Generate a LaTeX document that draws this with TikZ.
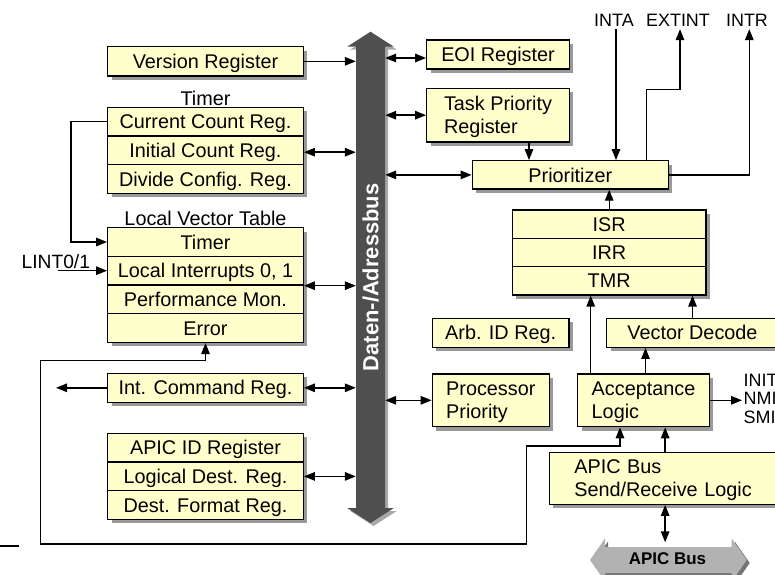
\documentclass[tikz,border=0pt]{standalone}
\usepackage{fontspec}
\setmainfont{Liberation Sans}
\usetikzlibrary{arrows.meta,shadows,calc}
\definecolor{regfill}{HTML}{FFFFCC}
\definecolor{regshadow}{HTML}{999999}
\definecolor{busdark}{HTML}{4F4F4F}
\definecolor{busshade}{HTML}{A8A8A8}
\definecolor{apicfill}{HTML}{B2B2B2}
\definecolor{apicshade}{HTML}{747474}

\begin{document}
\begin{tikzpicture}[x=1bp,y=-1bp,
  font=\fontsize{19.9}{23.3}\selectfont,
  >={Triangle[length=11bp,width=8.5bp]},
  regbase/.style={draw, line width=1.3bp, fill=regfill, inner sep=0pt,
    minimum height=28.7bp, text depth=0pt,
    drop shadow={shadow xshift=4bp, shadow yshift=-4bp, fill=regshadow, opacity=1}},
  reg/.style={regbase, text height=14.25bp},
  lbl/.style={inner sep=0pt, text height=14.25bp, text depth=0pt},
  pin/.style={inner sep=0pt, text height=12.9bp, text depth=0pt,
    font=\fontsize{18}{18.8}\selectfont},
  wire/.style={line width=1.4bp}
]
\useasboundingbox (0,0) rectangle (775,575);
\fill[white] (0,0) rectangle (775,575);
\clip (0,0) rectangle (775,575);

% ---------- central data/address bus ----------
\node[minimum width=29bp, minimum height=461.3bp, inner sep=0pt] (bus) at (370.5,277.35) {};
\fill[busshade] (359,49.7) -- (350.2,49.7) -- (373.5,34.7) -- (396.8,49.7) -- (388,49.7)
  -- (388,511) -- (396.8,511) -- (373.5,526) -- (350.2,511) -- (359,511) -- cycle;
\fill[busdark] (356,46.7) -- (347.2,46.7) -- (370.5,31.7) -- (393.8,46.7) -- (385,46.7)
  -- (385,508) -- (393.8,508) -- (370.5,523) -- (347.2,508) -- (356,508) -- cycle;
\node[rotate=90, text=white, inner sep=0pt, text height=15.75bp, text depth=0pt,
  font=\bfseries\fontsize{22}{22}\selectfont] (buslabel) at (bus.center) {Daten-/Adressbus};

% ---------- APIC bus ----------
\node[minimum width=126.7bp, minimum height=35bp, inner sep=0pt] (apicbus) at (668.35,560) {};
\fill[apicshade] (608,550) -- (608,541.5) -- (593,563) -- (608,584.5) -- (608,576)
  -- (734.7,576) -- (734.7,584.5) -- (749.7,563) -- (734.7,541.5) -- (734.7,550) -- cycle;
\fill[apicfill] (605,547) -- (605,538.5) -- (590,560) -- (605,581.5) -- (605,573)
  -- (731.7,573) -- (731.7,581.5) -- (746.7,560) -- (731.7,538.5) -- (731.7,547) -- cycle;
\node[lbl, font=\bfseries\fontsize{17}{17}\selectfont, text height=12.2bp] (apiclabel)
  at (667.5,558.3) {APIC Bus};

% ---------- left column registers ----------
\node[reg, minimum width=195.6bp, minimum height=29.3bp] (ver) at (205.5,61.3) {Version Register};

\node[lbl] (timerlbl) at (205.5,98) {Timer};
\node[reg, minimum width=195.6bp] (tcur) at (205.5,121.7) {Current Count Reg.};
\node[reg, minimum width=195.6bp] (tini) at (205.5,150.4) {Initial Count Reg.};
\node[reg, minimum width=195.6bp] (tdiv) at (205.5,179.1) {Divide Config. Reg.};

\node[lbl] (lvtlbl) at (205.5,218) {Local Vector Table};
\node[reg, minimum width=195.6bp] (ltim) at (205.5,242) {Timer};
\node[reg, minimum width=195.6bp] (lint) at (205.5,270.7) {Local Interrupts 0, 1};
\node[reg, minimum width=195.6bp] (lperf) at (205.5,299.4) {Performance Mon.};
\node[reg, minimum width=195.6bp] (lerr) at (205.5,328.1) {Error};

\node[reg, minimum width=195.6bp, minimum height=29bp] (icr) at (205.5,387.8) {Int. Command Reg.};

\node[reg, minimum width=195.6bp] (aid) at (205.5,447.7) {APIC ID Register};
\node[reg, minimum width=195.6bp] (ldr) at (205.5,476.4) {Logical Dest. Reg.};
\node[reg, minimum width=195.6bp] (dfr) at (205.5,505.1) {Dest. Format Reg.};

\node[lbl, font=\fontsize{19.3}{20}\selectfont] (lintlbl) at (55.8,261) {LINT0/1};
\coordinate (lintin) at (58,270.7);

% ---------- right side units ----------
\node[reg, minimum width=142.6bp, minimum height=29bp] (eoi) at (498,54.5) {EOI Register};
\node[regbase, minimum width=142.6bp, minimum height=53.7bp, align=left] (tpr) at (498,115.2) {Task Priority\\Register};
\node[reg, minimum width=196bp, minimum height=28.3bp] (prio) at (570.3,174.9) {Prioritizer};

\node[reg, minimum width=193.7bp, minimum height=28.3bp] (isr) at (609.2,224.2) {ISR};
\node[reg, minimum width=193.7bp, minimum height=28.3bp] (irr) at (609.2,252.5) {IRR};
\node[reg, minimum width=193.7bp, minimum height=28.3bp] (tmr) at (609.2,280.8) {TMR};

\node[reg, minimum width=136.7bp, minimum height=29bp] (arb) at (500.7,332.8) {Arb. ID Reg.};
\node[reg, minimum width=171.6bp, minimum height=29bp] (vdec) at (692.5,332.8) {Vector Decode};

\node[regbase, minimum width=117bp, minimum height=52.7bp, align=left] (ppr) at (490.8,400.3) {Processor\\Priority};
\node[regbase, minimum width=131.6bp, minimum height=52.7bp, align=left] (acc) at (643.5,400.3) {Acceptance\\Logic};

\node[regbase, minimum height=52bp, inner xsep=25bp, text width=181.7bp, align=left,
  text depth=23.3bp] (send) at (665.15,478.3) {APIC Bus\\Send/Receive Logic};

% signal labels
\node[pin, inner ysep=2.5bp] (inta) at (614,20) {INTA};
\node[pin, inner ysep=2.5bp] (extint) at (678,20) {EXTINT};
\node[pin, inner ysep=2.5bp] (intr) at (747,20) {INTR};
\node[pin, text height=50.5bp, inner xsep=1.5bp, anchor=west, align=left] (sigs)
  at (742,398.3) {INIT\\NMI\\SMI};

% ---------- connectors ----------
\begin{scope}[wire]
  % left column to bus
  \draw[->] (ver.east) -- (ver.east -| bus.west);
  \draw[<->] ([yshift=-1.8bp]tini.east) -- ([yshift=-1.8bp]tini.east -| bus.west);
  \draw[<->] (lint.south east) -- (lint.south east -| bus.west);
  \draw[<->] (icr.east) -- (icr.east -| bus.west);
  \draw[<->] (ldr.east) -- (ldr.east -| bus.west);

  % timer feeds the LVT timer entry
  \draw[->] (tcur.west) -- ++(-36,0) |- (ltim.west);
  % external local interrupt pins
  \draw[->] (lintin) -- (lintin -| lint.west);
  % interrupt command register output
  \draw[->] (icr.west) -- ++(-51,0);

  % bus to right side units
  \draw[<->] ([yshift=-3.5bp]eoi.west -| bus.east) -- ([yshift=-3.5bp]eoi.west);
  \draw[<->] (tpr.west -| bus.east) -- (tpr.west);
  \draw[<->] (prio.west -| bus.east) -- (prio.west);
  \draw[<->] (ppr.west -| bus.east) -- (ppr.west);

  % priority logic
  \draw[->] ([xshift=31bp]tpr.south) -- ([xshift=31bp]tpr.south |- prio.north);
  \draw[->] ([xshift=2bp]inta.south) -- ([xshift=2bp]inta.south |- prio.north);
  \draw[->] ([xshift=76.4bp]prio.north) -- ++(0,-70.7) -| ([xshift=2bp]extint.south);
  \draw[->] (prio.east) -| ([xshift=2.3bp]intr.south);
  \draw[->] (isr.north) -- (isr.north |- prio.south);

  % acceptance and decode paths
  \draw[->] ([xshift=-52.8bp]acc.north) -- ([xshift=-52.8bp]acc.north |- tmr.south);
  \draw[->] (vdec.north) -- (vdec.north |- tmr.south);
  \draw[->] ([xshift=2bp]acc.north) -- ([xshift=2bp]acc.north |- vdec.south);
  \draw[->] (acc.east) -- (acc.east -| sigs.west);
  \draw[->] (send.north) -- (send.north |- acc.south);
  \draw[<->] (send.south) -- (send.south |- apicbus.north);

  % error reporting loop
  \draw[<->] ([xshift=-23.5bp]acc.south) |- (526.7,446) |- (40.7,544)
    |- ([yshift=-17.5bp]lerr.south) -- (lerr.south);

  % edge fragment at the lower left
  \draw (0,546) -- (19,546);
\end{scope}
\end{tikzpicture}
\end{document}
